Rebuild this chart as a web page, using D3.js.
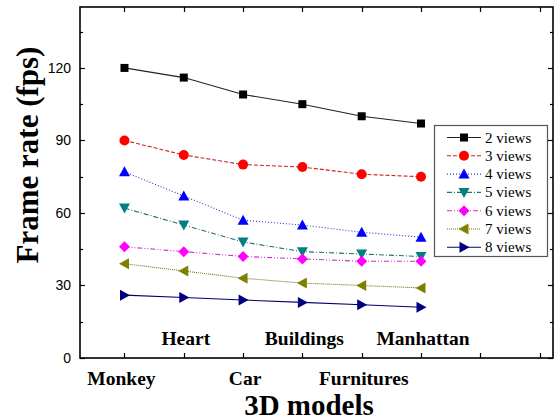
<!DOCTYPE html>
<html><head><meta charset="utf-8">
<script src="https://cdn.jsdelivr.net/npm/d3@7"></script>
<style>body{margin:0;background:#fff}svg{display:block}</style>
</head><body>
<svg id="c" width="556" height="420"></svg>
<script>
const categories = ["Monkey","Heart","Car","Buildings","Furnitures","Manhattan"];
const seriesNames = ["2 views","3 views","4 views","5 views","6 views","7 views","8 views"];
const views2 = [120,116,109,105,100,97];
const views3 = [90,84,80,79,76,75];
const views4 = [77,67,57,55,52,50];
const views5 = [62,55,48,44,43,42];
const views6 = [46,44,42,41,40,40];
const views7 = [39,36,33,31,30,29];
const views8 = [26,25,24,23,22,21];
const yTicks = [0,30,60,90,120];
const yMinor = [15,45,75,105,135];
const xTickIdx = [0,1,2,3,4,5,6,7];

const seriesValues = [views2,views3,views4,views5,views6,views7,views8];
const colors = ["#000000","#ff0000","#0000ff","#008080","#ff00ff","#808000","#000080"];
const lineColors = ["#222222","#cc2222","#3333cc","#207070","#cc33cc","#707020","#000070"];
const dashes = [null,"4,2","1,2","5,2,1,2","5,2,1,2,1,2","1,1",null];
const shapes = ["square","circle","up","down","diamond","left","right"];

const svg = d3.select("#c");
const L=80,R=553,T=7,B=358;
const x = d3.scaleLinear().domain([-0.75,7.226]).range([L,R]);
const y = d3.scaleLinear().domain([0,145.2]).range([B,T]);
const serif = "Liberation Serif, Times New Roman, serif";

// frame
svg.append("rect").attr("x",L).attr("y",T).attr("width",R-L).attr("height",B-T)
  .attr("fill","none").attr("stroke","#000").attr("stroke-width",1.6);

// ticks
const g = svg.append("g").attr("stroke","#000").attr("stroke-width",1.2);
xTickIdx.forEach(i=>{
  const xx = Math.round(x(i))+0.5;
  g.append("line").attr("x1",xx).attr("x2",xx).attr("y1",B).attr("y2",B-5);
  g.append("line").attr("x1",xx).attr("x2",xx).attr("y1",T).attr("y2",T+5);
});
yTicks.forEach(v=>{
  const yy = Math.round(y(v))+0.5;
  g.append("line").attr("x1",L).attr("x2",L+5).attr("y1",yy).attr("y2",yy);
  g.append("line").attr("x1",R).attr("x2",R-5).attr("y1",yy).attr("y2",yy);
});
yMinor.forEach(v=>{
  const yy = Math.round(y(v))+0.5;
  g.append("line").attr("x1",L).attr("x2",L+3).attr("y1",yy).attr("y2",yy);
  g.append("line").attr("x1",R).attr("x2",R-3).attr("y1",yy).attr("y2",yy);
});
// y tick labels
svg.append("g").selectAll("text").data(yTicks).join("text")
  .attr("x",71).attr("y",d=>y(d)+5).attr("text-anchor","end")
  .attr("font-family","Liberation Sans, Arial, sans-serif").attr("font-size",14)
  .text(d=>d);

// category labels
svg.append("g").selectAll("text").data(categories).join("text")
  .attr("x",(d,i)=>x(i)+ (i===0?-3:2)).attr("y",(d,i)=> i%2===0?385:345)
  .attr("text-anchor","middle")
  .attr("font-family",serif).attr("font-weight","bold").attr("font-size",19.5)
  .text(d=>d);

// axis titles
svg.append("text").attr("x",309).attr("y",415).attr("text-anchor","middle")
  .attr("font-family",serif).attr("font-weight","bold").attr("font-size",29)
  .text("3D models");
svg.append("text").attr("transform","translate(38,155) rotate(-90)").attr("text-anchor","middle")
  .attr("font-family",serif).attr("font-weight","bold").attr("font-size",31)
  .text("Frame rate (fps)");

function marker(sel, shape, color){
  if(shape==="square") sel.append("rect").attr("x",-4).attr("y",-4).attr("width",8).attr("height",8).attr("fill",color);
  else if(shape==="circle") sel.append("circle").attr("r",5).attr("fill",color);
  else {
    let pts;
    if(shape==="up") pts=[[0,-5.5],[5.5,4.5],[-5.5,4.5]];
    if(shape==="down") pts=[[0,5.5],[5.5,-4.5],[-5.5,-4.5]];
    if(shape==="left") pts=[[-5.5,0],[4.5,-5.5],[4.5,5.5]];
    if(shape==="right") pts=[[5.5,0],[-4.5,-5.5],[-4.5,5.5]];
    if(shape==="diamond") pts=[[0,-5.5],[5.5,0],[0,5.5],[-5.5,0]];
    sel.append("polygon").attr("points",pts.map(p=>p.join(",")).join(" ")).attr("fill",color);
  }
}

const line = d3.line().x((d,i)=>x(i)).y(d=>y(d));
seriesValues.forEach((vals,k)=>{
  svg.append("path").datum(vals).attr("d",line).attr("fill","none")
    .attr("stroke",lineColors[k]).attr("stroke-width",1.1)
    .attr("stroke-dasharray",dashes[k]);
  vals.forEach((v,i)=>{
    const m = svg.append("g").attr("transform",`translate(${x(i)},${y(v)})`);
    marker(m, shapes[k], colors[k]);
  });
});

// legend
const lg = svg.append("g");
lg.append("rect").attr("x",434.5).attr("y",125.5).attr("width",113).attr("height",131)
  .attr("fill","#fff").attr("stroke","#555").attr("stroke-width",1.2);
seriesNames.forEach((n,k)=>{
  const yy = 137.5 + k*18.3;
  lg.append("line").attr("x1",447).attr("x2",481).attr("y1",yy).attr("y2",yy)
    .attr("stroke",lineColors[k]).attr("stroke-width",1.1).attr("stroke-dasharray",dashes[k]);
  const m = lg.append("g").attr("transform",`translate(464,${yy})`);
  marker(m, shapes[k], colors[k]);
  lg.append("text").attr("x",485).attr("y",yy+5).attr("font-family",serif)
    .attr("font-size",15).text(n);
});
</script>
</body></html>
